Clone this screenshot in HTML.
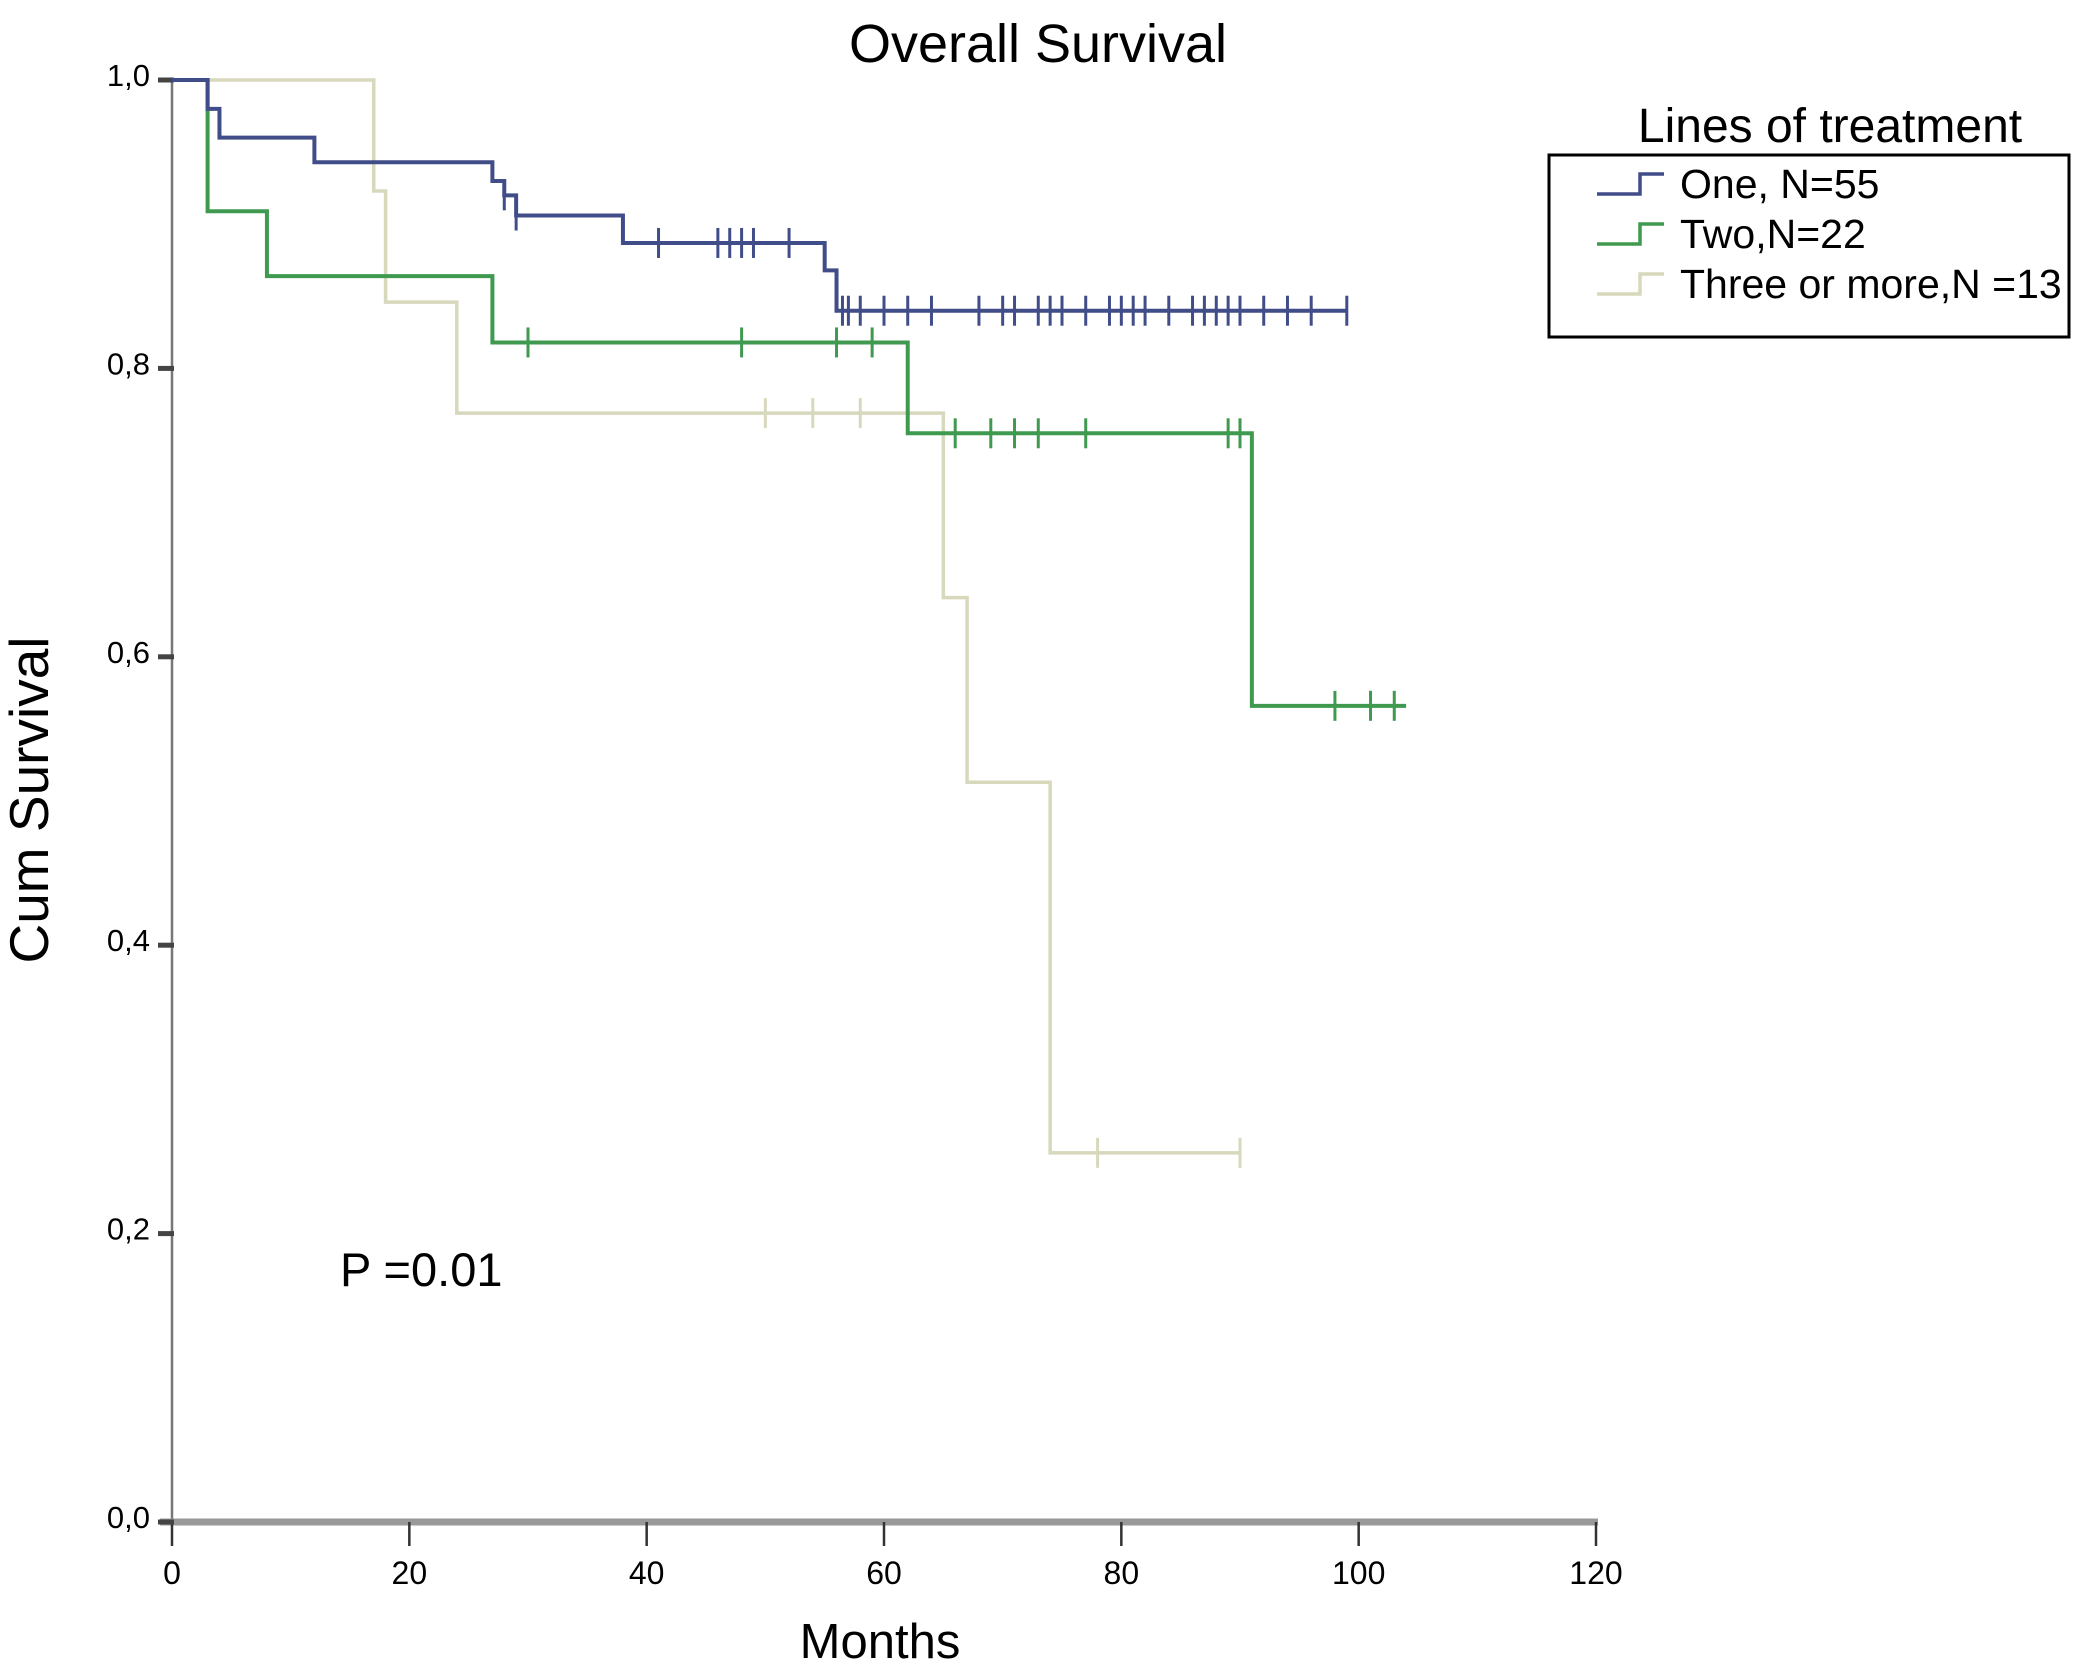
<!DOCTYPE html>
<html><head><meta charset="utf-8"><style>
html,body{margin:0;padding:0;background:#fff;}
svg{display:block;font-family:"Liberation Sans",sans-serif;}
</style></head><body>
<svg id="c" width="2087" height="1670" viewBox="0 0 2087 1670"></svg>
<script>
const xTicks=[0,20,40,60,80,100,120];
const yTicks=[0,0.2,0.4,0.6,0.8,1.0];
const yTickLabels=["0,0","0,2","0,4","0,6","0,8","1,0"];
const oneTimes=[0,3,4,12,27,28,29,38,55,56,99];
const oneSurv=[1,0.98,0.96,0.943,0.93,0.92,0.906,0.887,0.868,0.84,0.84];
const oneCens=[28,29,41,46,47,48,49,52,56.5,57,58,60,62,64,68,70,71,73,74,75,77,79,80,81,82,84,86,87,88,89,90,92,94,96,99];
const twoTimes=[0,3,8,27,62,91,104];
const twoSurv=[1,0.909,0.864,0.818,0.755,0.566,0.566];
const twoCens=[30,48,56,59,66,69,71,73,77,89,90,98,101,103];
const threeTimes=[0,17,18,24,65,67,74,90];
const threeSurv=[1,0.923,0.846,0.769,0.641,0.513,0.256,0.256];
const threeCens=[50,54,58,78,90];
const NS="http://www.w3.org/2000/svg";
const svg=document.getElementById('c');
const X=m=>172+m*(1596-172)/120;
const Y=v=>1522-v*(1522-80);
function el(t,a,txt){const e=document.createElementNS(NS,t);for(const k in a)e.setAttribute(k,a[k]);if(txt!==undefined)e.textContent=txt;svg.appendChild(e);return e;}
function survAt(times,surv,t){let s=surv[0];for(let i=0;i<times.length;i++){if(times[i]<=t)s=surv[i];}return s;}
let a=el('line',{x1:172,y1:80,x2:172,y2:1522,stroke:'#777','stroke-width':2.5});


a=el('line',{x1:160,y1:1522,x2:1598,y2:1522,stroke:'#999','stroke-width':7});


xTicks.forEach(t=>{
 const l=el('line',{x1:X(t),y1:1522,x2:X(t),y2:1546,stroke:'#333','stroke-width':2.5});
 
 
 const tx=el('text',{x:X(t),y:1584,'font-size':32,'text-anchor':'middle'},String(t));
 
 
});
yTicks.forEach((t,i)=>{
 const l=el('line',{x1:158,y1:Y(t),x2:174,y2:Y(t),stroke:'#444','stroke-width':5});
 
 
 const tx=el('text',{x:150,y:Y(t)+6,'font-size':31,'text-anchor':'end'},yTickLabels[i]);
 
 
});
function series(times,surv,cens,color,w,name){
 let d='M'+X(times[0])+','+Y(surv[0]);
 for(let i=1;i<times.length;i++){d+=' H'+X(times[i])+' V'+Y(surv[i]);}
 const p=el('path',{d:d,fill:'none',stroke:color,'stroke-width':w});
 
 
 cens.forEach(c=>{
  const y=Y(survAt(times,surv,c));
  const m=el('line',{x1:X(c),y1:y-15,x2:X(c),y2:y+15,stroke:color,'stroke-width':3});
  
  
 });
}
series(threeTimes,threeSurv,threeCens,'#d8d8bc',3.5,'three-or-more');
series(twoTimes,twoSurv,twoCens,'#3f9a50',4,'two-lines');
series(oneTimes,oneSurv,oneCens,'#414d88',4,'one-line');
let t=el('text',{x:1038,y:62,'font-size':54,'text-anchor':'middle'},'Overall Survival');


t=el('text',{x:0,y:0,'font-size':55,'text-anchor':'middle',transform:'translate(48,800) rotate(-90)'},'Cum Survival');


t=el('text',{x:880,y:1658,'font-size':49,'text-anchor':'middle'},'Months');


t=el('text',{x:340,y:1286,'font-size':47},'P =0.01');


t=el('text',{x:1830,y:142,'font-size':48,'text-anchor':'middle'},'Lines of treatment');


t=el('rect',{x:1549,y:155,width:520,height:182,fill:'none',stroke:'#000','stroke-width':3});


const legNames=['One, N=55','Two,N=22','Three or more,N =13'];
const legColors=['#414d88','#3f9a50','#d8d8bc'];
legNames.forEach((n,i)=>{
 const y=184+i*50;
 const s=el('path',{d:`M1597,${y+10} H1640 V${y-10} H1664`,fill:'none',stroke:legColors[i],'stroke-width':3.5});
 
 
 const tx=el('text',{x:1680,y:y+14,'font-size':41},n);
 
 
});
</script>
</body></html>
